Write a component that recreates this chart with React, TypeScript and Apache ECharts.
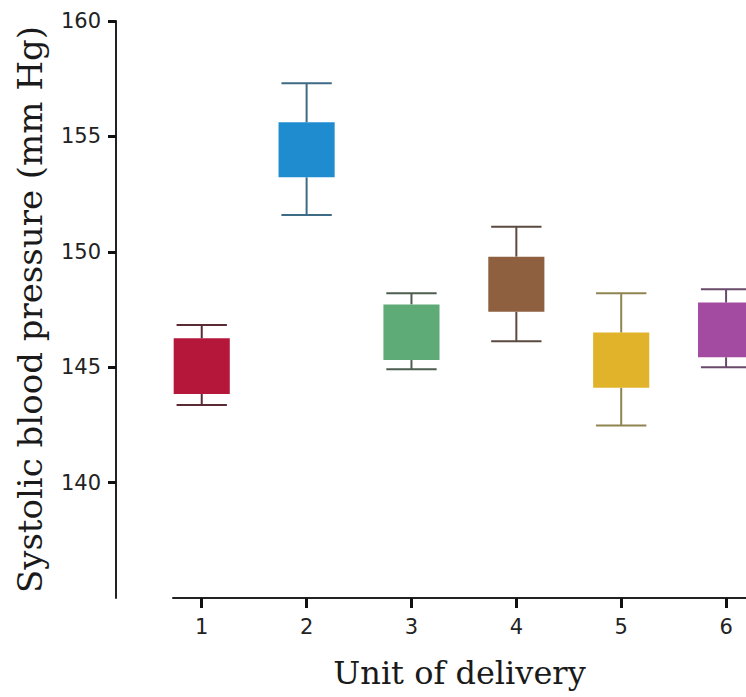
import React, { useEffect, useRef } from "react";
import * as echarts from "echarts";

// Systolic blood pressure by unit of delivery: box (q1..q3) with whiskers (low..high)
const units = [1, 2, 3, 4, 5, 6];
const lowValues = [143.36, 151.59, 144.91, 146.12, 142.47, 145.0];
const q1Values = [143.84, 153.23, 145.31, 147.4, 144.11, 145.43];
const q3Values = [146.25, 155.61, 147.72, 149.79, 146.5, 147.8];
const highValues = [146.83, 157.3, 148.2, 151.09, 148.2, 148.38];
const boxColors = ["#b5173b", "#1f8ccf", "#5fab77", "#8e6040", "#e0b32a", "#a34ba0"];
const whiskerColors = ["#5a2a35", "#3d6a85", "#4d5e50", "#5a4a40", "#8f8450", "#6a4a6a"];
const yTickValues = [140, 145, 150, 155, 160];

export default function App() {
  const ref = useRef<HTMLDivElement>(null);

  useEffect(() => {
    document.body.style.margin = "0";
    if (!ref.current) return;
    const chart = echarts.init(ref.current, null, { renderer: "svg" });

    const data = units.map((u, i) => [u, lowValues[i], q1Values[i], q3Values[i], highValues[i]]);

    chart.setOption({
      animation: false,
      backgroundColor: "#ffffff",
      grid: { left: 173, right: 0, top: 21, bottom: 99, containLabel: false },
      xAxis: {
        type: "value",
        min: 0.726,
        max: 6.19,
        name: "Unit of delivery",
        nameLocation: "middle",
        nameGap: 59,
        nameTextStyle: { fontFamily: "DejaVu Serif", fontSize: 32, color: "#1a1a1a" },
        splitLine: { show: false },
        axisLine: { show: true, lineStyle: { color: "#222", width: 2 } },
        axisTick: {
          show: true,
          customValues: units,
          length: 10,
          lineStyle: { color: "#111", width: 3 },
        },
        axisLabel: {
          customValues: units,
          margin: 18,
          fontFamily: "DejaVu Sans",
          fontSize: 21,
          color: "#222",
        },
      },
      yAxis: {
        type: "value",
        min: 135,
        max: 160,
        offset: 57,
        name: "Systolic blood pressure (mm Hg)",
        nameLocation: "middle",
        nameGap: 69,
        nameTextStyle: { fontFamily: "DejaVu Serif", fontSize: 34, color: "#1a1a1a" },
        splitLine: { show: false },
        axisLine: { show: true, lineStyle: { color: "#222", width: 2 } },
        axisTick: {
          show: true,
          customValues: yTickValues,
          length: 8,
          lineStyle: { color: "#111", width: 3 },
        },
        axisLabel: {
          customValues: yTickValues,
          margin: 15,
          fontFamily: "DejaVu Sans",
          fontSize: 21,
          color: "#222",
        },
      },
      series: [
        {
          type: "custom",
          clip: false,
          data,
          encode: { x: 0, y: [1, 2, 3, 4] },
          renderItem: (params: any, api: any) => {
            const i = params.dataIndex;
            const x = api.value(0);
            const low = api.coord([x, api.value(1)]);
            const q1 = api.coord([x, api.value(2)]);
            const q3 = api.coord([x, api.value(3)]);
            const high = api.coord([x, api.value(4)]);
            const boxW = api.size([0.535, 0])[0];
            const capW = api.size([0.48, 0])[0];
            const cx = low[0];
            const lineStyle = { stroke: whiskerColors[i], lineWidth: 2, fill: null };
            return {
              type: "group",
              children: [
                { type: "line", shape: { x1: cx, y1: high[1], x2: cx, y2: q3[1] }, style: lineStyle },
                { type: "line", shape: { x1: cx, y1: q1[1], x2: cx, y2: low[1] }, style: lineStyle },
                { type: "line", shape: { x1: cx - capW / 2, y1: high[1], x2: cx + capW / 2, y2: high[1] }, style: lineStyle },
                { type: "line", shape: { x1: cx - capW / 2, y1: low[1], x2: cx + capW / 2, y2: low[1] }, style: lineStyle },
                {
                  type: "rect",
                  shape: { x: cx - boxW / 2, y: q3[1], width: boxW, height: q1[1] - q3[1] },
                  style: { fill: boxColors[i], stroke: null },
                },
              ],
            };
          },
        },
      ],
    });

    return () => chart.dispose();
  }, []);

  return <div ref={ref} style={{ width: 746, height: 697 }} />;
}
